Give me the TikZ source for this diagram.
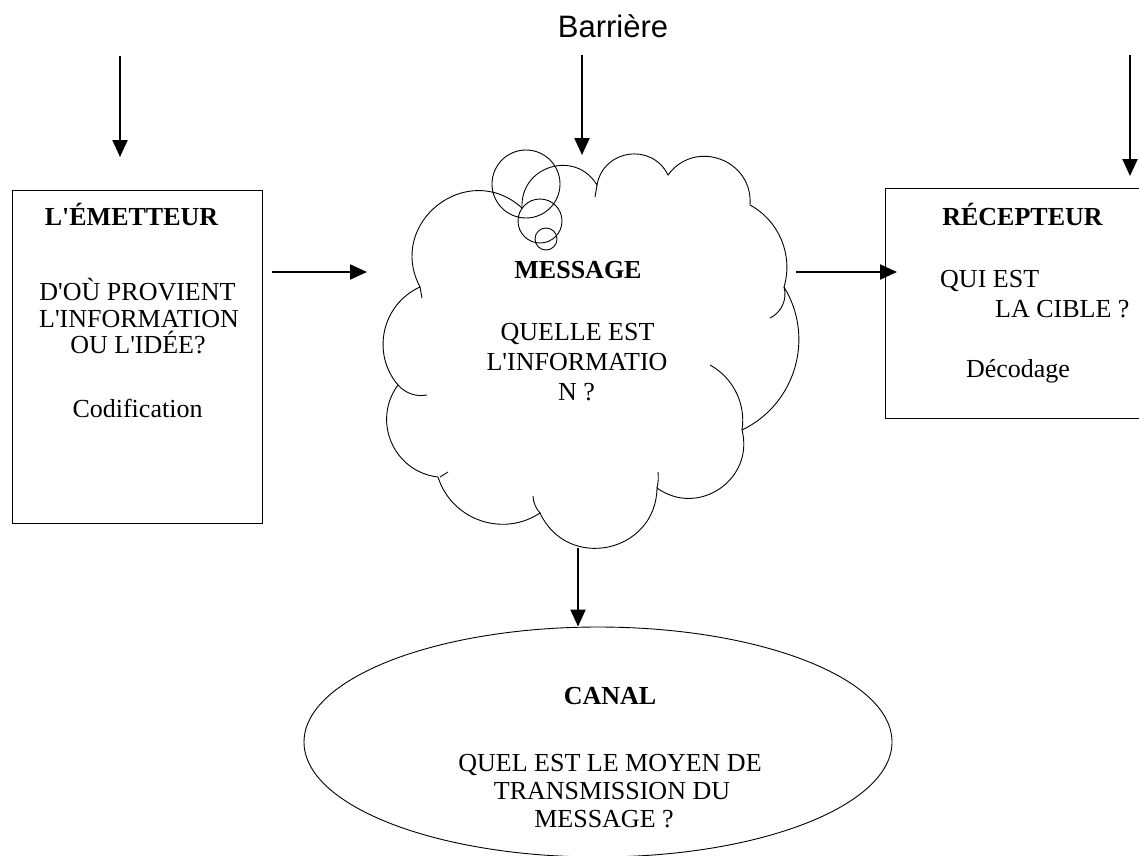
\documentclass[tikz,border=0pt]{standalone}
\usepackage{fontspec}
\setmainfont{Liberation Serif}
\newfontfamily\tnr{Liberation Serif}
\newfontfamily\barfont{Liberation Sans}
\usetikzlibrary{arrows.meta,shapes.geometric}
\begin{document}
\begin{tikzpicture}[x=1pt,y=-1pt,
  t/.style={font=\tnr\fontsize{26}{30}\selectfont, inner sep=0pt, anchor=base},
  tb/.style={font=\tnr\fontsize{26}{30}\selectfont\bfseries, inner sep=0pt, anchor=base},
  tw/.style={font=\tnr\fontsize{26}{30}\selectfont, inner sep=0pt, anchor=base west},
  shapeline/.style={line width=0.9pt},
  arr/.style={line width=2.2pt, -{Triangle[length=17pt,width=15pt]}},
  puff/.code={\pgfmathsetmacro\puffl{1/(3*cos(#1/2)^2)/0.3915}\pgfkeysalso{/tikz/bend left=#1,/tikz/looseness=\puffl}}]
\clip (0,0) rectangle (1139,855);
\fill[white] (0,0) rectangle (1139,855);

% Barriere label
\node[font=\barfont\fontsize{31}{36}\selectfont, inner sep=0pt, anchor=base] (barriere) at (613,37) {Barrière};

% left box
\node[draw, shapeline, minimum width=250pt, minimum height=333pt, inner sep=0pt] (emetteur) at (137,356.5) {};
\node[tb] (em1) at (131.5,225) {L'ÉMETTEUR};
\node[t] (em2) at (137.5,300) {D'OÙ PROVIENT};
\node[t] (em3) at (139,327) {L'INFORMATION};
\node[t] (em4) at (138,353) {OU L'IDÉE?};
\node[t] (em5) at (137.5,417) {Codification};

% right box
\node[draw, shapeline, minimum width=270pt, minimum height=230pt, inner sep=0pt] (recepteur) at (1020,303) {};
\node[tb] (re1) at (1022.5,225) {RÉCEPTEUR};
\node[tw] (re2) at (940,287) {QUI EST};
\node[tw] (re3) at (995,317) {LA CIBLE ?};
\node[t] (re4) at (1018,377) {Décodage};

% cloud
\draw[shapeline] (420,287) to[puff=80] (522,208) to[puff=76] (597,185) to[puff=72] (668,175)
  to[puff=74] (750,205) to[puff=39] (784,287) to[puff=48] (742,430) to[puff=70] (657,488)
  to[puff=77] (540,513) to[puff=53] (438,477) to[puff=60] (398,385) to[puff=53] (420,287);
% inner puff tails
\draw[shapeline] (784,287) to[puff=40] (770,318);
\draw[shapeline] (710,365) to[puff=35] (742,430);
\draw[shapeline] (427,395) to[puff=30] (398,385);
\draw[shapeline] (658,472) to[puff=10] (657,488);
\draw[shapeline] (540,513) to[puff=20] (533,496);
\draw[shapeline] (448,472) -- (440,477);
\draw[shapeline] (422,298) -- (420,287);
\draw[shapeline] (595,197) -- (597,185);
% callout bubbles
\draw[shapeline] (526,184) circle[radius=34];
\draw[shapeline] (540,221) circle[radius=22];
\draw[shapeline] (546,239) circle[radius=11];
\node[tb] (me1) at (578,278) {MESSAGE};
\node[t] (me2) at (577.5,340) {QUELLE EST};
\node[t] (me3) at (577,370) {L'INFORMATIO};
\node[t] (me4) at (576.5,400) {N ?};

% ellipse
\node[draw, shapeline, ellipse, minimum width=588pt, minimum height=230pt, inner sep=0pt] (canal) at (598,742) {};
\node[tb] (ca1) at (610,704) {CANAL};
\node[t] (ca2) at (610,771) {QUEL EST LE MOYEN DE};
\node[t] (ca3) at (612,799) {TRANSMISSION DU};
\node[t] (ca4) at (604,827) {MESSAGE ?};

% arrows
\coordinate (a1s) at (120,56);   \coordinate (a1e) at (120,157);
\coordinate (a2s) at (582,55);   \coordinate (a2e) at (582,155);
\coordinate (a3s) at (1130,55);  \coordinate (a3e) at (1130,176);
\coordinate (h1s) at (272,272);  \coordinate (h1e) at (367,272);
\coordinate (h2s) at (796,272);  \coordinate (h2e) at (897,272);
\coordinate (d1s) at (578,548);
\draw[arr] (a1s) -- (a1e);
\draw[arr] (a2s) -- (a2e);
\draw[arr] (a3s) -- (a3e);
\draw[arr] (h1s) -- (h1e);
\draw[arr] (h2s) -- (h2e);
\draw[arr] (d1s) -- (d1s |- canal.north);
\end{tikzpicture}
\end{document}
